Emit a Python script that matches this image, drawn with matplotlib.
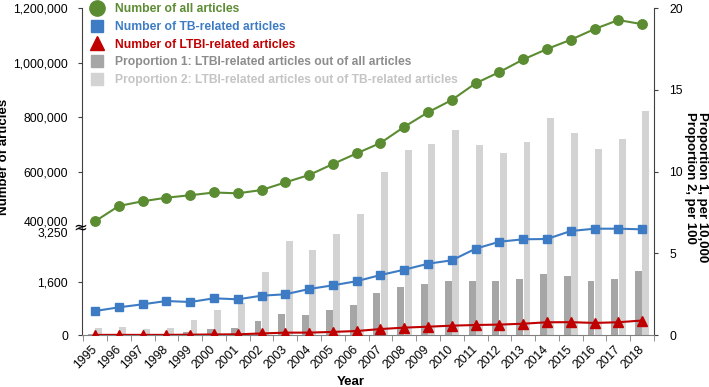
import numpy as np
import matplotlib
matplotlib.use("Agg")
import matplotlib.pyplot as plt
from matplotlib.lines import Line2D

plt.rcParams['font.family'] = ['Liberation Sans', 'DejaVu Sans']

# ---- data ----
years = list(range(1995, 2019))
all_articles = [420800, 476800, 494000, 507000, 516000, 526000, 523000, 535000,
                563000, 590000, 630000, 669000, 707000, 766000, 819000, 864000,
                925000, 966000, 1012000, 1050000, 1084000, 1123000, 1156000, 1141000]
tb_articles = [722, 833, 924, 1023, 993, 1104, 1074, 1183, 1225, 1384, 1495, 1619,
               1805, 1965, 2145, 2248, 2597, 2807, 2880, 2889, 3129, 3199, 3199, 3180]
ltbi_articles = [3, 4, 3, 4, 9, 17, 21, 46, 71, 72, 93, 120,
                 179, 222, 250, 281, 301, 313, 340, 383, 386, 363, 384, 436]
prop1 = [0.05, 0.05, 0.05, 0.05, 0.18, 0.35, 0.43, 0.88, 1.29, 1.23, 1.51, 1.83,
         2.58, 2.94, 3.11, 3.31, 3.31, 3.31, 3.44, 3.74, 3.62, 3.29, 3.40, 3.89]
prop2 = [0.45, 0.51, 0.35, 0.41, 0.94, 1.53, 1.94, 3.87, 5.77, 5.21, 6.20, 7.40,
         9.94, 11.29, 11.66, 12.52, 11.60, 11.15, 11.82, 13.25, 12.33, 11.35, 12.00, 13.70]

left_ticks = [0, 1600, 400000, 600000, 800000, 1000000, 1200000]
left_labels = ['0', '1,600', '400,000\n3,250', '600,000', '800,000', '1,000,000', '1,200,000']
right_ticks = [0, 5, 10, 15, 20]

GREEN = '#5b8c32'
BLUE = '#3d7cc4'
RED = '#c00000'
DGRAY = '#a6a6a6'
LGRAY = '#d3d3d3'

# broken left axis: 0..3250 at the bottom, 400,000..1,200,000 above
brk_v = [-3250, 0, 3250, 400000, 1200000, 2000000]
brk_p = [-108, 0, 108, 108.01, 327, 546]


def fwd(v):
    return np.interp(v, brk_v, brk_p)


def inv(p):
    return np.interp(p, brk_p, brk_v)


fig = plt.figure(figsize=(7.09, 3.87), dpi=100)
ax = fig.add_axes([82 / 709, 52 / 387, 572 / 709, 327 / 387])
ax2 = ax.twinx()
ax.set_zorder(ax2.get_zorder() + 1)
ax.patch.set_visible(False)

x = np.arange(len(years))

# bars on right axis
ax2.bar(x - 0.15, prop1, width=0.29, color=DGRAY, zorder=2)
ax2.bar(x + 0.16, prop2, width=0.29, color=LGRAY, zorder=2)
ax2.set_ylim(0, 20)
ax2.set_yticks(right_ticks)

# lines on left axis
ax.set_yscale('function', functions=(fwd, inv))
ax.plot(x, all_articles, color=GREEN, lw=1.5, marker='o', ms=6.8, zorder=5)
ax.plot(x, tb_articles, color=BLUE, lw=1.5, marker='s', ms=6.3, zorder=5)
ax.plot(x, ltbi_articles, color=RED, lw=1.5, marker='^', ms=7, zorder=5)
ax.set_ylim(0, 1200000)
ax.set_xlim(-0.55, 23.5)
ax.set_yticks(left_ticks)
ax.set_yticklabels(left_labels)
ax.yaxis.set_minor_locator(plt.NullLocator())
for lab in ax.get_yticklabels():
    lab.set_linespacing(0.9)

ax.set_xticks(x)
ax.set_xticklabels([str(y) for y in years], rotation=45, ha='right', va='center',
                   rotation_mode='anchor')
ax.set_xticks(np.arange(-0.5, 24, 1), minor=True)
ax.tick_params(axis='x', which='major', length=0, pad=9, labelsize=8.7)
ax.tick_params(axis='x', which='minor', length=4, color='#808080')
ax.tick_params(axis='y', length=3, labelsize=8.7, color='#404040', pad=7)
ax2.tick_params(axis='y', length=3, labelsize=8.7, color='#404040', pad=8)

for s in ['top', 'right']:
    ax.spines[s].set_visible(False)
for s in ['top', 'left', 'bottom']:
    ax2.spines[s].set_visible(False)
ax.spines['bottom'].set_color('#808080')
ax.spines['left'].set_color('#404040')
ax2.spines['right'].set_color('#404040')

# break mark
ax.text(-0.004, 3250, '\u2248', transform=ax.get_yaxis_transform(), ha='center', va='center',
        fontsize=12, family='DejaVu Sans', zorder=10)

ax.set_xlabel('Year', fontweight='bold', fontsize=9.5)
ax.xaxis.set_label_coords(0.469, -0.125)
ax.set_ylabel('Number of articles', fontweight='bold', fontsize=9.5)
ax.yaxis.set_label_coords(-0.125, 0.544)
fig.text(696 / 709, 1 - 187 / 387, 'Proportion 1, per 10,000\nProportion 2, per 100',
         rotation=270, ha='center', va='center', fontweight='bold', fontsize=9.5,
         multialignment='left', linespacing=1.0)

handles = [
    Line2D([], [], ls='none', marker='o', ms=11, color=GREEN),
    Line2D([], [], ls='none', marker='s', ms=9, color=BLUE),
    Line2D([], [], ls='none', marker='^', ms=10, color=RED),
    Line2D([], [], ls='none', marker='s', ms=9, color=DGRAY),
    Line2D([], [], ls='none', marker='s', ms=9, color=LGRAY),
]
labels = ['Number of all articles', 'Number of TB-related articles',
          'Number of LTBI-related articles',
          'Proportion 1: LTBI-related articles out of all articles',
          'Proportion 2: LTBI-related articles out of TB-related articles']
leg = ax.legend(handles, labels, loc='upper left', bbox_to_anchor=(0.016, 1.015),
                frameon=False, borderpad=0, borderaxespad=0, handlelength=1.0,
                handletextpad=1.0, labelspacing=0.48,
                prop={'weight': 'bold', 'size': 8.7},
                labelcolor=[GREEN, BLUE, RED, '#8c8c8c', '#c4c4c4'])

fig.savefig('out.png', dpi=100)
